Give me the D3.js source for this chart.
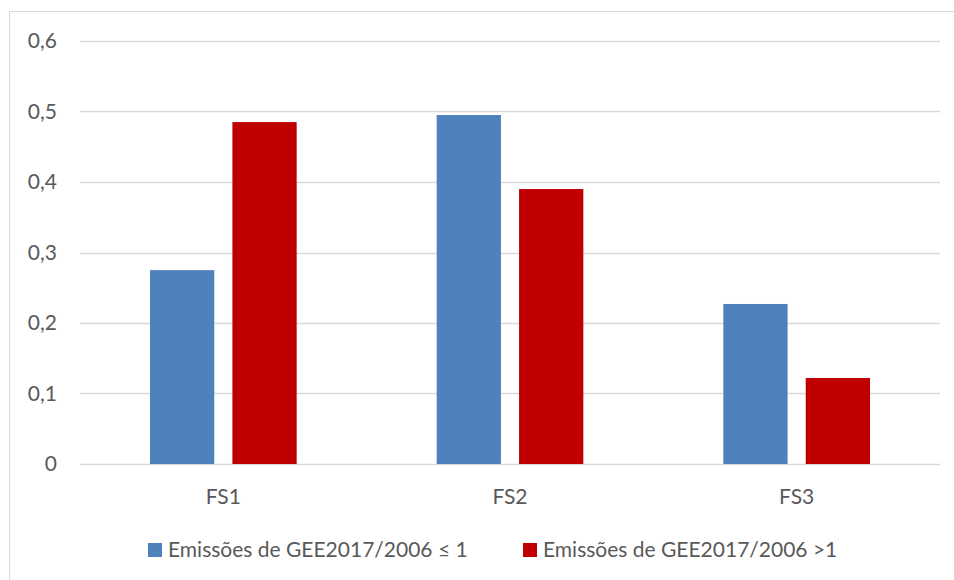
<!DOCTYPE html>
<html>
<head>
<meta charset="utf-8">
<script src="https://cdn.jsdelivr.net/npm/d3@7"></script>
<style>
  body { margin: 0; background: #fff; }
  svg text { font-family: Lato, "Open Sans", sans-serif; fill: #595959; }
</style>
</head>
<body>
<div id="chart"></div>
<script>
// donnees du graphique
const categories = ["FS1", "FS2", "FS3"];
const seriesNames = ["Emissões de GEE2017/2006 ≤ 1", "Emissões de GEE2017/2006 >1"];
const lowValues = [0.275, 0.495, 0.227];
const highValues = [0.485, 0.390, 0.122];
const yTicks = [0, 0.1, 0.2, 0.3, 0.4, 0.5, 0.6];
const colors = ["#4F81BD", "#C00000"];

const W = 954, H = 580;
const margin = {top: 41, right: 14, bottom: 116, left: 80};
const width = W - margin.left - margin.right;
const height = H - margin.top - margin.bottom;
const fontSize = "21px";

const svg = d3.select("#chart").append("svg")
    .attr("width", W)
    .attr("height", H);

// cadre exterieur
svg.append("rect")
    .attr("x", 9.5).attr("y", 11.5)
    .attr("width", W + 20).attr("height", H + 20)
    .attr("fill", "none")
    .attr("stroke", "#d9d9d9");

const g = svg.append("g")
    .attr("transform", "translate(" + margin.left + "," + margin.top + ")");

const x = d3.scaleBand()
    .domain(categories)
    .range([0, width])
    .paddingInner(0)
    .paddingOuter(0);

const x1 = d3.scaleBand()
    .domain([0, 1])
    .range([70, x.bandwidth() - 70])
    .paddingInner(0.22);

const y = d3.scaleLinear()
    .domain([0, 0.6])
    .range([height, 0]);

// grille
g.selectAll(".grid")
    .data(yTicks)
    .enter().append("line")
    .attr("x1", 0).attr("x2", width)
    .attr("y1", d => Math.round(y(d)) + 0.5)
    .attr("y2", d => Math.round(y(d)) + 0.5)
    .attr("stroke", "#d9d9d9")
    .attr("stroke-width", 1.3);

// axe Y
const fmt = d => d === 0 ? "0" : d3.format(".1f")(d).replace(".", ",");
g.selectAll(".ylab")
    .data(yTicks)
    .enter().append("text")
    .attr("x", -23)
    .attr("y", d => y(d))
    .attr("dy", "0.35em")
    .attr("text-anchor", "end")
    .style("font-size", fontSize)
    .text(fmt);

// barres
const rows = categories.map((c, i) => ({cat: c, vals: [lowValues[i], highValues[i]]}));
const groups = g.selectAll(".grp")
    .data(rows)
    .enter().append("g")
    .attr("transform", d => "translate(" + x(d.cat) + ",0)");

groups.selectAll("rect")
    .data(d => d.vals.map((v, k) => ({k: k, v: v})))
    .enter().append("rect")
    .attr("x", d => x1(d.k))
    .attr("width", x1.bandwidth())
    .attr("y", d => y(d.v))
    .attr("height", d => y(0) - y(d.v))
    .attr("fill", d => colors[d.k]);

// axe X
g.selectAll(".xlab")
    .data(categories)
    .enter().append("text")
    .attr("x", d => x(d) + x.bandwidth() / 2)
    .attr("y", height + 33)
    .attr("dy", "0.35em")
    .attr("text-anchor", "middle")
    .style("font-size", fontSize)
    .text(d => d);

// legende
const legendX = [148, 523];
const legend = svg.selectAll(".leg")
    .data(seriesNames)
    .enter().append("g")
    .attr("transform", (d, i) => "translate(" + legendX[i] + ",550)");
legend.append("rect")
    .attr("x", 0).attr("y", -7)
    .attr("width", 14).attr("height", 14)
    .attr("fill", (d, i) => colors[i]);
legend.append("text")
    .attr("x", 20)
    .attr("dy", "0.35em")
    .style("font-size", fontSize)
    .text(d => d);
</script>
</body>
</html>
